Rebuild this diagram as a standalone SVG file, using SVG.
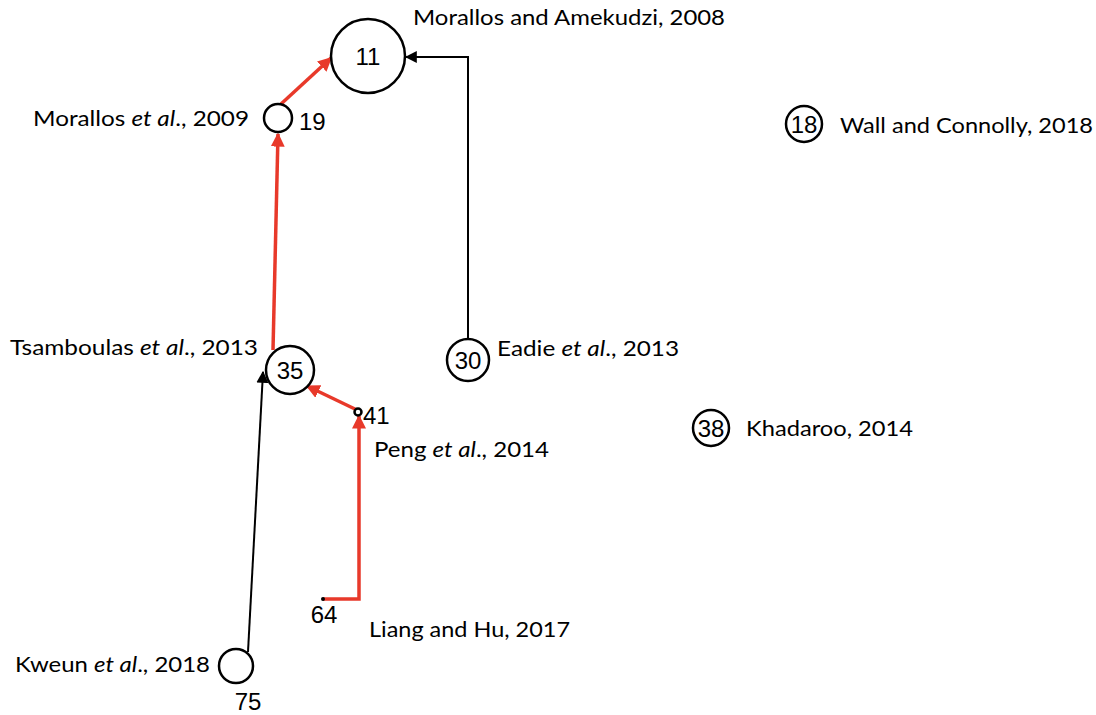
<svg xmlns="http://www.w3.org/2000/svg" width="1096" height="715" viewBox="0 0 1096 715">
  <style>
    .node { fill: #fff; stroke: #000; stroke-width: 2.5; }
    .num { font-family: "Liberation Sans", Arial, sans-serif; font-size: 24px; fill: #000; }
    .lbl { font-family: Lato, "Open Sans", sans-serif; font-size: 22px; fill: #000; }
    .red { fill: none; stroke: #e8392a; stroke-width: 3.5; }
    .blk { fill: none; stroke: #000; stroke-width: 2; }
  </style>
  <defs>
    <marker id="arrRed" viewBox="0 0 10 10" refX="9" refY="5" markerWidth="4" markerHeight="4" markerUnits="strokeWidth" orient="auto">
      <path d="M0,0 L10,5 L0,10 z" fill="#e8392a"/>
    </marker>
    <marker id="arrBlk" viewBox="0 0 10 10" refX="9" refY="5" markerWidth="6" markerHeight="6" markerUnits="strokeWidth" orient="auto">
      <path d="M0,0 L10,5 L0,10 z" fill="#000"/>
    </marker>
  </defs>

  <g id="connectors">
    <line class="red" x1="281" y1="104" x2="331" y2="58" marker-end="url(#arrRed)"/>
    <path class="blk" d="M468,339 V57 H406" marker-end="url(#arrBlk)"/>
    <line class="red" x1="273" y1="350" x2="278" y2="134" marker-end="url(#arrRed)"/>
    <line class="red" x1="357" y1="410" x2="307" y2="386" marker-end="url(#arrRed)"/>
    <path class="red" d="M323,599 H359 V416" marker-end="url(#arrRed)"/>
    <line class="blk" x1="248" y1="652" x2="263" y2="372" marker-end="url(#arrBlk)"/>
  </g>

  <g id="n11">
    <circle class="node" cx="368" cy="56" r="37"/>
    <text class="num" x="368" y="65" text-anchor="middle">11</text>
    <text class="lbl" x="413" y="25" textLength="312" lengthAdjust="spacingAndGlyphs">Morallos and Amekudzi, 2008</text>
  </g>
  <g id="n19">
    <circle class="node" cx="278" cy="118" r="14"/>
    <text class="num" x="299" y="130">19</text>
    <text class="lbl" x="33" y="126" textLength="216" lengthAdjust="spacingAndGlyphs">Morallos <tspan font-style="italic">et al</tspan>., 2009</text>
  </g>
  <g id="n18">
    <circle class="node" cx="804" cy="124" r="18"/>
    <text class="num" x="804" y="133" text-anchor="middle">18</text>
    <text class="lbl" x="840" y="133" textLength="253" lengthAdjust="spacingAndGlyphs">Wall and Connolly, 2018</text>
  </g>
  <g id="n35">
    <circle class="node" cx="290" cy="370" r="24"/>
    <text class="num" x="290" y="379" text-anchor="middle">35</text>
    <text class="lbl" x="10" y="355" textLength="248" lengthAdjust="spacingAndGlyphs">Tsamboulas <tspan font-style="italic">et al</tspan>., 2013</text>
  </g>
  <g id="n30">
    <circle class="node" cx="468" cy="360" r="21"/>
    <text class="num" x="468" y="369" text-anchor="middle">30</text>
    <text class="lbl" x="497" y="356" textLength="182" lengthAdjust="spacingAndGlyphs">Eadie <tspan font-style="italic">et al</tspan>., 2013</text>
  </g>
  <g id="n38">
    <circle class="node" cx="711" cy="428" r="18"/>
    <text class="num" x="711" y="437" text-anchor="middle">38</text>
    <text class="lbl" x="746" y="436" textLength="167" lengthAdjust="spacingAndGlyphs">Khadaroo, 2014</text>
  </g>
  <g id="n41">
    <circle class="node" cx="358" cy="412" r="3.5" stroke-width="2"/>
    <text class="num" x="363" y="424">41</text>
    <text class="lbl" x="374" y="457" textLength="175" lengthAdjust="spacingAndGlyphs">Peng <tspan font-style="italic">et al</tspan>., 2014</text>
  </g>
  <g id="n64">
    <circle cx="323" cy="599" r="2" fill="#000"/>
    <text class="num" x="324" y="623" text-anchor="middle">64</text>
    <text class="lbl" x="369" y="637" textLength="201" lengthAdjust="spacingAndGlyphs">Liang and Hu, 2017</text>
  </g>
  <g id="n75">
    <circle class="node" cx="236" cy="666" r="17"/>
    <text class="num" x="248" y="710" text-anchor="middle">75</text>
    <text class="lbl" x="15" y="672" textLength="195" lengthAdjust="spacingAndGlyphs">Kweun <tspan font-style="italic">et al</tspan>., 2018</text>
  </g>
</svg>
